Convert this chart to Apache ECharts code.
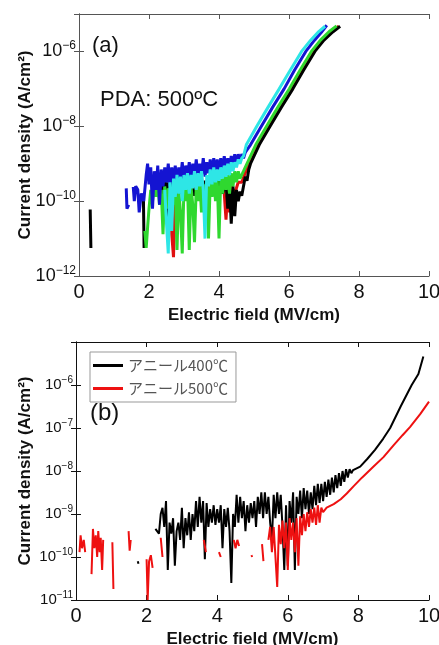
<!DOCTYPE html>
<html>
<head>
<meta charset="utf-8">
<script src="https://cdn.jsdelivr.net/npm/echarts@6/dist/echarts.min.js"></script>
<style>
  html, body { margin: 0; padding: 0; background: #fff; }
  #main { width: 439px; height: 645px; }
</style>
</head>
<body>
<div id="main"></div>
<script>
// panel (a): PDA 500C, five devices  [E (MV/cm), J (A/cm2)]
const blackA = [[0.32,6e-11],[0.34,5.6e-12],[1.0,'-'],
  [1.84,1.3e-10],[1.86,5.6e-12],[2.0,'-'],
  [2.3,2.5e-10],[2.35,1.3e-10],[2.4,4e-10],[2.45,1e-10],[2.5,3.2e-10],[2.55,3.2e-11],[2.6,3.5e-10],[2.65,1.6e-10],[2.7,4.5e-10],[2.75,2e-10],[2.8,4e-10],[2.9,1.6e-10],[3.0,3.2e-10],[3.1,1.3e-10],[3.2,3.5e-10],[3.3,1.4e-10],[3.4,3.2e-10],[3.5,1.6e-10],[3.6,3.5e-10],[3.7,1.3e-10],[3.8,3.2e-10],[3.9,1.8e-10],[4.0,3.5e-10],[4.1,1.6e-10],[4.2,3.2e-10],[4.25,6.3e-11],[4.3,2.5e-10],[4.35,2.5e-11],[4.4,2.5e-10],[4.45,4e-11],[4.5,2e-10],[4.55,1e-10],[4.6,1.8e-10],[4.65,1.4e-10],[4.7,2.5e-10],[4.75,4.5e-10],[4.8,3.5e-10],[4.85,7e-10],[4.9,1e-9],
  [5.15,3.2e-9],[5.46,1e-8],[5.78,3.2e-8],[6.11,1e-7],[6.42,3.2e-7],[6.74,1e-6],[7.0,2e-6],[7.25,3.3e-6],[7.46,4.7e-6]];
const redA = [[2.5,2e-10],[2.55,1e-10],[2.6,2.5e-10],[2.65,1.3e-11],[2.7,3.2e-12],[2.75,2e-10],[2.8,1e-10],[2.9,2.5e-10],[3.0,1.3e-10],[3.1,2.5e-10],[3.2,1.3e-10],[3.3,2.5e-10],[3.4,1.3e-10],[3.5,2.5e-10],[3.6,1.3e-10],[3.7,3.2e-10],[3.8,1.6e-10],[3.9,3.2e-10],[4.0,1.6e-10],[4.1,3.2e-10],[4.15,1.6e-10],[4.2,3.2e-11],[4.25,2e-10],[4.3,5e-11],[4.35,2.5e-10],[4.45,1.6e-10],[4.55,3.2e-10],[4.65,3.2e-10],
  [4.85,1e-9],[5.12,3.2e-9],[5.43,1e-8],[5.75,3.2e-8],[6.08,1e-7],[6.39,3.2e-7],[6.71,1e-6],[6.97,2e-6],[7.22,3.3e-6],[7.42,4.7e-6]];
const greenA = [[1.88,1.6e-11],[1.92,5.6e-12],[1.96,2e-11],[2.0,6.3e-11],[2.05,2e-10],[2.1,1e-10],[2.15,2.5e-10],[2.2,1.3e-10],[2.25,2.8e-10],[2.3,8e-11],[2.35,2e-10],[2.4,1.3e-11],[2.45,2.5e-10],[2.5,6.3e-11],[2.55,2.2e-10],[2.6,1e-10],[2.65,2.8e-10],[2.7,8e-11],[2.75,2.5e-10],[2.8,5e-12],[2.85,2e-10],[2.9,5e-11],[2.95,4e-12],[3.0,2.5e-10],[3.05,1e-10],[3.1,2.8e-10],[3.15,5e-12],[3.2,2.5e-10],[3.25,8e-11],[3.3,8e-12],[3.35,2.5e-10],[3.4,1e-10],[3.45,3.2e-10],[3.5,5e-11],[3.55,2.8e-10],[3.6,1.3e-10],[3.65,3.5e-10],[3.7,1e-11],[3.75,3.2e-10],[3.8,1.3e-10],[3.85,4e-10],[3.9,1e-10],[3.95,4e-10],[4.0,1e-11],[4.05,4e-10],[4.1,1.6e-10],[4.15,5e-10],[4.2,2e-10],[4.25,5e-10],[4.3,1.6e-10],[4.35,5.6e-10],[4.4,2.5e-10],[4.45,6.3e-10],[4.5,3.2e-10],[4.55,6.3e-10],[4.6,4e-10],[4.7,6.3e-10],
  [4.8,1e-9],[5.05,3.2e-9],[5.36,1e-8],[5.68,3.2e-8],[6.01,1e-7],[6.32,3.2e-7],[6.64,1e-6],[6.9,2e-6],[7.15,3.4e-6],[7.36,4.8e-6]];
const blueA = [[1.35,2.2e-10],[1.37,6.3e-11],[1.42,8e-11],[1.47,'-'],
  [1.55,2.4e-10],[1.58,1e-10],[1.62,2.5e-10],[1.68,2e-10],[1.72,5e-11],[1.78,1.6e-10],[1.85,1e-10],[1.92,5e-10],[1.96,1e-9],[2.0,2.8e-10],[2.05,8e-10],[2.1,6.3e-11],[2.15,6.3e-10],[2.2,2e-10],[2.25,8.9e-10],[2.3,8e-11],[2.35,7e-10],[2.4,2.5e-10],[2.45,8e-10],[2.5,3.2e-10],[2.55,1e-9],[2.6,2.5e-10],[2.65,8e-10],[2.7,3.5e-10],[2.75,8.9e-10],[2.8,2.8e-10],[2.85,8e-10],[2.9,4e-10],[2.95,1.1e-9],[3.0,3.2e-10],[3.05,8.9e-10],[3.1,4.5e-10],[3.15,1.1e-9],[3.2,3.5e-10],[3.25,1e-9],[3.3,5e-10],[3.35,1.3e-9],[3.4,4e-10],[3.45,1e-9],[3.5,5e-10],[3.55,1.4e-9],[3.6,4.5e-10],[3.65,1.1e-9],[3.7,5.6e-10],[3.75,1.3e-9],[3.8,5e-10],[3.85,1.4e-9],[3.9,6.3e-10],[3.95,1.3e-9],[4.0,5.6e-10],[4.05,1.4e-9],[4.1,6.3e-10],[4.15,1.6e-9],[4.2,7e-10],[4.25,1.4e-9],[4.3,8e-10],[4.35,1.6e-9],[4.4,8.9e-10],[4.45,1.8e-9],[4.5,1e-9],[4.55,1.8e-9],[4.6,1.1e-9],[4.65,1.8e-9],[4.7,1.4e-9],[4.75,2e-9],
  [4.9,3.2e-9],[5.21,1e-8],[5.53,3.2e-8],[5.86,1e-7],[6.16,3.2e-7],[6.48,1e-6],[6.73,2e-6],[6.92,3.2e-6],[7.08,5e-6]];
const cyanA = [[2.45,2e-10],[2.5,2.5e-11],[2.55,4e-12],[2.6,3.2e-10],[2.65,1.6e-11],[2.7,4e-10],[2.75,1.3e-10],[2.8,5e-10],[2.85,1.6e-10],[2.9,4.5e-10],[2.95,1e-10],[3.0,5e-10],[3.05,2e-10],[3.1,5.6e-10],[3.15,1.6e-10],[3.2,5e-10],[3.25,2.2e-10],[3.3,6.3e-10],[3.35,2e-10],[3.4,5.6e-10],[3.45,2.5e-10],[3.5,6.3e-10],[3.55,2e-10],[3.6,1e-11],[3.65,5e-10],[3.7,2.5e-10],[3.75,7e-10],[3.8,2.8e-10],[3.85,8e-10],[3.9,3.2e-10],[3.95,7e-10],[4.0,3.5e-10],[4.05,8e-10],[4.1,4e-10],[4.15,8.9e-10],[4.2,4.5e-10],[4.25,1e-9],[4.3,5e-10],[4.35,1.1e-9],[4.4,6.3e-10],[4.45,1.1e-9],[4.5,8e-10],[4.55,1.3e-9],[4.6,1e-9],[4.65,1.4e-9],[4.7,1.6e-9],
  [4.78,3.2e-9],[5.08,1e-8],[5.4,3.2e-8],[5.72,1e-7],[6.04,3.2e-7],[6.36,1e-6],[6.62,2e-6],[6.85,3.4e-6],[7.03,4.7e-6]];

// panel (b): anneal 400C / 500C
const legendB = ['アニール400℃', 'アニール500℃'];
const black400 = [[1.75,8e-11],[1.77,7e-11],[2.0,'-'],
  [2.25,4.5e-10],[2.3,5e-10],[2.35,3.5e-10],[2.4,1e-9],[2.45,1.4e-9],[2.5,5e-10],[2.55,2e-9],[2.6,5e-11],[2.65,6.3e-10],[2.7,3.5e-10],[2.75,8e-10],[2.8,6.3e-11],[2.85,4e-10],[2.9,6.3e-10],[2.95,2.5e-10],[3.0,1.4e-9],[3.05,1.6e-10],[3.1,8e-10],[3.15,3.2e-10],[3.2,1.1e-9],[3.25,2.5e-10],[3.3,1e-9],[3.35,4e-10],[3.4,2e-9],[3.45,5e-10],[3.5,2.5e-9],[3.55,6.3e-10],[3.6,2e-9],[3.65,8.9e-11],[3.7,1.8e-9],[3.75,5e-10],[3.8,1.3e-9],[3.85,6.3e-10],[3.9,1.6e-9],[3.95,5.6e-10],[4.0,1.3e-9],[4.05,6.3e-10],[4.1,1.6e-9],[4.15,1.6e-10],[4.2,1.3e-9],[4.25,5e-10],[4.3,1.4e-9],[4.35,4e-10],[4.4,2.5e-11],[4.45,1e-9],[4.5,5e-10],[4.55,2.8e-9],[4.6,6.3e-10],[4.65,2.5e-9],[4.7,8e-10],[4.75,2e-9],[4.8,4e-10],[4.85,1.6e-9],[4.9,6.3e-10],[4.95,1.8e-9],[5.0,8e-10],[5.05,2e-9],[5.1,5e-10],[5.15,2.5e-9],[5.2,1e-9],[5.25,3.2e-9],[5.3,8e-10],[5.35,3.2e-9],[5.4,1e-9],[5.45,2.5e-9],[5.5,6.3e-10],[5.55,2.5e-10],[5.6,2.8e-9],[5.65,8e-10],[5.7,3.2e-9],[5.75,1e-9],[5.8,2.8e-9],[5.85,5e-10],[5.9,5e-11],[5.95,1.6e-9],[6.0,6.3e-11],[6.05,2e-9],[6.1,6.3e-10],[6.15,3.2e-9],[6.2,5e-11],[6.25,2.5e-9],[6.3,1e-9],[6.35,3.5e-9],[6.4,8e-10],[6.45,4e-9],[6.5,1.3e-9],[6.55,3.5e-9],[6.6,1e-9],[6.65,3.2e-9],[6.7,1.3e-9],[6.75,4.5e-9],[6.8,1.6e-9],[6.85,5e-9],[6.9,1.8e-9],[6.95,5e-9],[7.0,2e-9],[7.05,5.6e-9],[7.1,2.5e-9],[7.15,6.3e-9],[7.2,2.8e-9],[7.25,7e-9],[7.3,3.2e-9],[7.35,8e-9],[7.4,4e-9],[7.45,8.9e-9],[7.5,4.5e-9],[7.55,1e-8],[7.6,5.6e-9],[7.65,1.1e-8],[7.7,7e-9],[7.75,1.1e-8],[7.8,8.9e-9],
  [7.85,1.05e-8],[8.05,1.26e-8],[8.25,1.9e-8],[8.47,3.1e-8],[8.7,5.6e-8],[8.9,1e-7],[9.2,3.2e-7],[9.51,1e-6],[9.7,1.8e-6],[9.84,4.6e-6]];
const red500 = [[0.1,1.3e-10],[0.13,3.2e-10],[0.17,1.6e-10],[0.22,2.5e-10],[0.26,1.3e-10],[0.35,'-'],
  [0.44,4e-11],[0.48,4.5e-10],[0.52,1.6e-10],[0.56,3.2e-10],[0.6,1e-10],[0.63,4e-10],[0.67,1.3e-10],[0.7,2.8e-10],[0.74,5e-11],[0.77,2.5e-10],[0.9,'-'],
  [1.03,2.2e-10],[1.06,1.8e-11],[1.3,'-'],
  [1.49,4e-10],[1.52,1.4e-10],[1.55,2.5e-10],[1.8,'-'],
  [2.0,8.9e-11],[2.03,1e-11],[2.07,8e-11],[2.12,1.1e-10],[2.17,5.6e-11],[2.3,'-'],
  [2.4,2.8e-10],[2.45,1e-10],[2.6,'-'],
  [3.62,2.5e-10],[3.68,1.3e-10],[3.8,'-'],
  [4.05,1.3e-10],[4.1,1e-10],[4.3,'-'],
  [4.47,2.5e-10],[4.52,1.6e-10],[4.57,2.5e-10],[4.62,1.8e-10],[4.8,'-'],
  [4.97,1.1e-10],[4.99,1e-10],[5.1,'-'],
  [5.27,2e-10],[5.31,8e-11],[5.4,'-'],
  [5.45,2.5e-10],[5.5,5e-10],[5.55,1.3e-10],[5.6,5e-10],[5.65,1e-10],[5.7,2e-11],[5.75,5.6e-10],[5.8,2e-10],[5.85,7e-10],[5.9,1.6e-10],[5.95,6.3e-10],[6.0,5e-11],[6.05,8e-10],[6.1,2.5e-10],[6.15,6.3e-10],[6.2,1.3e-10],[6.25,8e-10],[6.3,6.3e-11],[6.35,8.9e-10],[6.4,3.2e-10],[6.45,1e-9],[6.5,4e-10],[6.55,1.1e-9],[6.6,5e-10],[6.65,1.3e-9],[6.7,6.3e-10],[6.75,1.4e-9],[6.8,5.6e-10],[6.85,1.6e-9],[6.9,6.3e-10],[6.95,1.4e-9],[7.0,1.1e-9],
  [7.1,1.4e-9],[7.3,1.7e-9],[7.5,2.2e-9],[7.67,3e-9],[7.86,4.4e-9],[8.1,7e-9],[8.4,1.2e-8],[8.71,2.1e-8],[9.0,4e-8],[9.25,6.8e-8],[9.46,1.05e-7],[9.75,2.1e-7],[10.0,4.1e-7]];

const FONT = 'Liberation Sans, Arial, sans-serif';

// 10^-n labels
function expLabel(skipOdd) {
  return function (v) {
    let e = Math.round(Math.log10(v));
    if (skipOdd && e % 2 !== 0) return '';
    return '{b|10}{e|−' + (-e) + '}';
  };
}

function xAx(grid, pos, show, frame) {
  return {
    type: 'value', gridIndex: grid, position: pos, min: 0, max: 10, interval: 2,
    axisLine: { lineStyle: { color: frame, width: 1 } },
    axisTick: { show: true, inside: true, length: 5, lineStyle: { color: frame } },
    axisLabel: { show: show, fontSize: 20, color: '#111', fontFamily: FONT, margin: 6 },
    splitLine: { show: false },
    name: show ? 'Electric field (MV/cm)' : '', nameLocation: 'middle', nameGap: 31,
    nameTextStyle: { fontSize: 17, fontWeight: 'bold', color: '#111', fontFamily: FONT }
  };
}

function yAx(grid, pos, show, frame, min, max, interval, skipOdd, fs, es, gap) {
  return {
    type: 'log', logBase: 10, gridIndex: grid, position: pos, min: min, max: max, interval: interval,
    axisLine: { lineStyle: { color: frame, width: 1 } },
    axisTick: { show: true, inside: true, length: 5, lineStyle: { color: frame } },
    axisLabel: {
      show: show, showMaxLabel: false, margin: 3, formatter: expLabel(skipOdd),
      rich: {
        b: { fontSize: fs, fontFamily: FONT, color: '#111' },
        e: { fontSize: es, fontFamily: FONT, color: '#111', padding: [0, 0, fs * 0.6, 0] }
      }
    },
    splitLine: { show: false },
    minorTick: { show: false },
    name: show ? 'Current density (A/cm²)' : '', nameLocation: 'middle', nameGap: gap, nameRotate: 90,
    nameMoveOverlap: false,
    nameTextStyle: { fontSize: 17, fontWeight: 'bold', color: '#111', fontFamily: FONT }
  };
}

function line(name, data, color, width, x, y) {
  return {
    name: name, type: 'line', data: data, xAxisIndex: x, yAxisIndex: y,
    showSymbol: false, symbol: 'none', connectNulls: false, clip: true,
    lineStyle: { color: color, width: width }, itemStyle: { color: color }
  };
}

const chart = echarts.init(document.getElementById('main'), null, { renderer: 'canvas' });

const option = {
  animation: false,
  backgroundColor: '#fff',
  grid: [
    { left: 79, top: 14, width: 350, height: 262, outerBoundsMode: 'none' },
    { left: 76, top: 342, width: 353, height: 258, outerBoundsMode: 'none' }
  ],
  xAxis: [
    xAx(0, 'bottom', true, '#555'),
    xAx(0, 'top', false, '#555'),
    xAx(1, 'bottom', true, '#111'),
    xAx(1, 'top', false, '#111')
  ],
  yAxis: [
    yAx(0, 'left', true, '#555', 1e-12, 1e-5, 2, true, 18, 12, 45),
    yAx(0, 'right', false, '#555', 1e-12, 1e-5, 2, true, 18, 12, 0),
    yAx(1, 'left', true, '#111', 1e-11, 1e-5, 1, false, 15, 10, 42),
    yAx(1, 'right', false, '#111', 1e-11, 1e-5, 1, false, 15, 10, 0)
  ],
  legend: {
    data: legendB, left: 90, top: 352, orient: 'vertical', icon: 'rect',
    itemWidth: 30, itemHeight: 3, itemGap: 8,
    padding: [6, 8, 6, 3], borderColor: '#999', borderWidth: 1, backgroundColor: '#fff',
    textStyle: { fontSize: 15, color: '#555', fontFamily: 'Noto Sans CJK JP' }
  },
  graphic: [
    { type: 'text', left: 92, top: 35, style: { text: '(a)', font: '22px ' + FONT, fill: '#111' } },
    { type: 'text', left: 100, top: 89, style: { text: 'PDA: 500ºC', font: '22px ' + FONT, fill: '#111' } },
    { type: 'text', left: 90, top: 401, style: { text: '(b)', font: '24px ' + FONT, fill: '#111' } }
  ],
  series: [
    line('red-a', redA, '#e01010', 3, 0, 0),
    line('black-a', blackA, '#000000', 3, 0, 0),
    line('green-a', greenA, '#2fd82f', 3, 0, 0),
    line('blue-a', blueA, '#1414d2', 3, 0, 0),
    line('cyan-a', cyanA, '#2ee6e6', 3, 0, 0),
    line(legendB[0], black400, '#000000', 2, 2, 2),
    line(legendB[1], red500, '#ee1111', 2, 2, 2)
  ]
};

chart.setOption(option);
</script>
</body>
</html>
